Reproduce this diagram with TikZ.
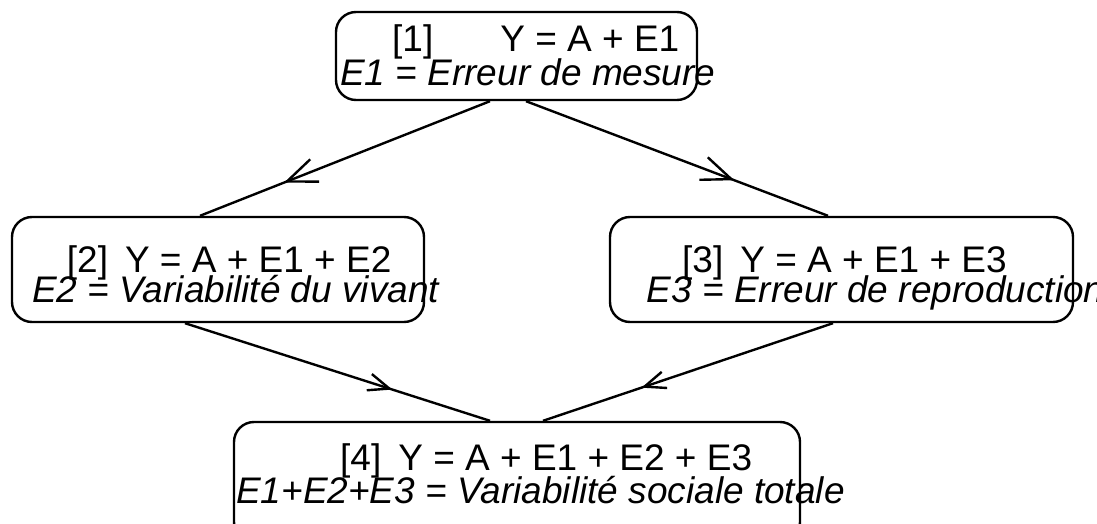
\documentclass[tikz,border=0pt]{standalone}
\usepackage{fontspec}
\setmainfont{Liberation Sans}
\usetikzlibrary{decorations.markings}
\begin{document}
\begin{tikzpicture}[x=1pt,y=-1pt,
  box/.style={draw, line width=2.4pt, rounded corners=20pt, inner sep=0pt},
  eqtext/.style={anchor=base west, inner sep=0pt, font=\fontsize{37}{40}\selectfont},
  desctext/.style={anchor=base west, inner sep=0pt, font=\fontsize{37}{40}\selectfont\itshape},
  conn/.style={line width=2.4pt},
  bigarrow/.style={postaction={decorate}, decoration={markings, mark=at position #1 with {\draw[line width=2.4pt] (-29.7pt,12pt) -- (0pt,0pt) -- (-29.7pt,-12pt);}}},
  smallarrow/.style={postaction={decorate}, decoration={markings, mark=at position #1 with {\draw[line width=2.4pt] (-21pt,8.5pt) -- (0pt,0pt) -- (-21pt,-8.5pt);}}}
]
\useasboundingbox (0,0) rectangle (1097,524);
\clip (0,0) rectangle (1097,524);
% boxes
\node[box, minimum width=361pt, minimum height=88pt] (b1) at (516.5,56) {};
\node[box, minimum width=412pt, minimum height=105pt] (b2) at (218,269.5) {};
\node[box, minimum width=463pt, minimum height=105pt] (b3) at (841.5,269.5) {};
\node[box, minimum width=566pt, minimum height=120pt] (b4) at (517,482) {};
% texts
\node[eqtext] (t1a) at (392,52) {[1]\hspace{67pt}Y = A + E1};
\node[desctext] (t1b) at (340,86) {E1 = Erreur de mesure};
\node[eqtext] (t2a) at (66.7,272) {[2]\hspace{17pt}Y = A + E1 + E2};
\node[desctext] (t2b) at (32,302) {E2 = Variabilité du vivant};
\node[eqtext] (t3a) at (682,272) {[3]\hspace{17pt}Y = A + E1 + E3};
\node[desctext] (t3b) at (646.7,302) {E3 = Erreur de reproduction};
\node[eqtext] (t4a) at (340,470) {[4]\hspace{17pt}Y = A + E1 + E2 + E3};
\node[desctext] (t4b) at (236,503) {E1+E2+E3 = Variabilité sociale totale};
% connectors
\draw[conn, bigarrow=0.7] ([xshift=-26.5pt]b1.south) -- ([xshift=-18pt]b2.north);
\draw[conn, bigarrow=0.68] ([xshift=9.5pt]b1.south) -- ([xshift=-13.5pt]b3.north);
\draw[conn, smallarrow=0.67] ([xshift=-33pt]b2.south) -- ([xshift=-27pt]b4.north);
\draw[conn, smallarrow=0.65] ([xshift=-8.5pt]b3.south) -- ([xshift=26pt]b4.north);
\end{tikzpicture}
\end{document}
